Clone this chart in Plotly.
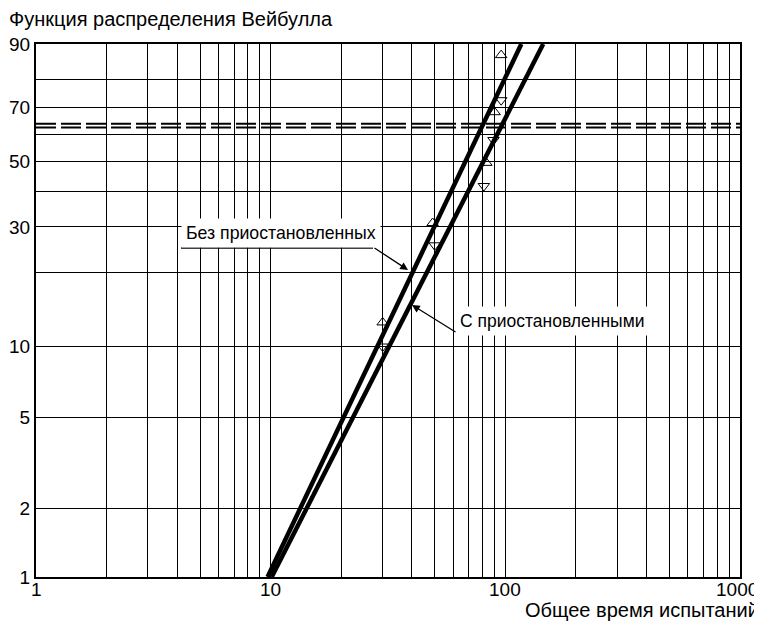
import numpy as np
import plotly.graph_objects as go

# ---------------- data ----------------
# Weibull probability paper: x = total test time (log), y = F, %
y_grid_pct = [1, 2, 5, 10, 20, 30, 40, 50, 60, 70, 80, 90]
y_label_pct = [1, 2, 5, 10, 30, 50, 70, 90]
x_grid = [1, 2, 3, 4, 5, 6, 7, 8, 9,
          10, 20, 30, 40, 50, 60, 70, 80, 90,
          100, 200, 300, 400, 500, 600, 700, 800, 900, 1000]
x_label = [1, 10, 100, 1000]

# points without suspensions (triangle up)
t_up = [30, 49, 83, 90, 96]
F_up = [12.6, 31.0, 49.6, 68.3, 87.2]
# points with suspensions (triangle down)
t_down = [30, 50, 81, 89, 96]
F_down = [10.0, 25.6, 41.8, 57.9, 72.7]

# fitted straight lines (end points)
line_no_susp_t = [9.7, 117]
line_no_susp_F = [1, 90]
line_susp_t = [10.1, 145]
line_susp_F = [1, 90]

# characteristic-life reference levels (dashed)
ref_levels = [62.6, 64.0]

title_text = "Функция распределения Вейбулла"
xaxis_text = "Общее время испытаний"
label_no_susp = "Без приостановленных"
label_susp = "С приостановленными"


def wb(F):
    F = np.asarray(F, dtype=float) / 100.0
    return np.log(-np.log(1.0 - F))


FONT = "Liberation Sans, Arial, sans-serif"

fig = go.Figure()

for lvl in ref_levels:
    fig.add_trace(go.Scatter(
        x=[x_grid[0], x_grid[-1]], y=[float(wb(lvl))] * 2, mode="lines",
        line=dict(color="black", width=2, dash="20px,5px"),
        showlegend=False, hoverinfo="skip"))

fig.add_trace(go.Scatter(
    x=line_no_susp_t, y=wb(line_no_susp_F), mode="lines",
    line=dict(color="black", width=4.5), showlegend=False))
fig.add_trace(go.Scatter(
    x=line_susp_t, y=wb(line_susp_F), mode="lines",
    line=dict(color="black", width=4.5), showlegend=False))

fig.add_trace(go.Scatter(
    x=t_up, y=wb(F_up), mode="markers",
    marker=dict(symbol="triangle-up-open", size=10, color="black",
                line=dict(width=1)), showlegend=False))
fig.add_trace(go.Scatter(
    x=t_down, y=wb(F_down), mode="markers",
    marker=dict(symbol="triangle-down-open", size=10, color="black",
                line=dict(width=1)), showlegend=False))

# page offset of the plot div (default body margin)
OFF = 8
# plot area in page pixels
L, R, T, B = 36, 740, 44, 577
W, H = 762 - OFF, 626 - OFF


def px(x):
    return (x - L) / (R - L)


def py(y):
    return (B - y) / (B - T)


annotations = [
    dict(text=label_no_susp, xref="paper", yref="paper",
         x=px(181), y=py(233), xanchor="left", yanchor="middle",
         showarrow=False, bgcolor="white", borderpad=4,
         font=dict(family=FONT, size=17.7, color="black")),
    dict(text=label_susp, xref="paper", yref="paper",
         x=px(455), y=py(321), xanchor="left", yanchor="middle",
         showarrow=False, bgcolor="white", borderpad=4,
         font=dict(family=FONT, size=17.5, color="black")),
    dict(text="", xref="paper", yref="paper", x=px(408), y=py(270),
         showarrow=True, ax=-35, ay=-23, arrowhead=2, arrowsize=1.2,
         arrowwidth=1.3, arrowcolor="black", standoff=0),
    dict(text="", xref="paper", yref="paper", x=px(412), y=py(305),
         showarrow=True, ax=45, ay=28, arrowhead=2, arrowsize=1.2,
         arrowwidth=1.3, arrowcolor="black", standoff=0),
    dict(text=xaxis_text, xref="paper", yref="paper",
         x=px(760), y=py(610), xanchor="right", yanchor="middle",
         showarrow=False, borderpad=0,
         font=dict(family=FONT, size=20, color="black")),
]

# x tick labels (placed a little closer to the axis than plotly's default)
for v in x_label:
    annotations.append(dict(
        text=str(v), xref="x", yref="paper", x=float(np.log10(v)), y=py(589),
        xanchor="center", yanchor="middle", showarrow=False, borderpad=0,
        xshift=-3 if v == x_label[-1] else 0,
        font=dict(family=FONT, size=19, color="black")))

shapes = [
    dict(type="line", xref="paper", yref="paper", x0=px(181), x1=px(373),
         y0=py(248), y1=py(248), line=dict(color="black", width=1.5),
         layer="above"),
    dict(type="line", xref="paper", yref="paper", x0=px(456), x1=px(646),
         y0=py(334), y1=py(334), line=dict(color="black", width=1.5),
         layer="above"),
]

fig.update_layout(
    width=W, height=H,
    margin=dict(l=L - OFF, r=W - (R - OFF), t=T - OFF, b=H - (B - OFF),
                pad=0, autoexpand=False),
    paper_bgcolor="white", plot_bgcolor="white",
    font=dict(family=FONT, size=19, color="black"),
    title=dict(text=title_text, xref="container", yref="container",
               x=1.0 / W, xanchor="left", y=1 - (19 - OFF) / H,
               yanchor="middle", automargin=False,
               font=dict(family=FONT, size=20, color="black")),
    annotations=annotations, shapes=shapes,
    xaxis=dict(type="log", range=[0, 3], tickmode="array",
               tickvals=x_grid, showticklabels=False,
               showgrid=True, gridcolor="black", gridwidth=1,
               showline=True, linecolor="black", linewidth=2, mirror=True,
               ticks="", zeroline=False, automargin=False),
    yaxis=dict(range=[float(wb(1)), float(wb(90))], tickmode="array",
               tickvals=list(wb(y_grid_pct)),
               ticktext=[str(v) if v in y_label_pct else "" for v in y_grid_pct],
               showgrid=True, gridcolor="black", gridwidth=1,
               showline=True, linecolor="black", linewidth=2, mirror=True,
               ticks="", zeroline=False, automargin=False,
               ticklabelstandoff=0,
               tickfont=dict(family=FONT, size=19, color="black")),
)

fig.write_html("out.html")
